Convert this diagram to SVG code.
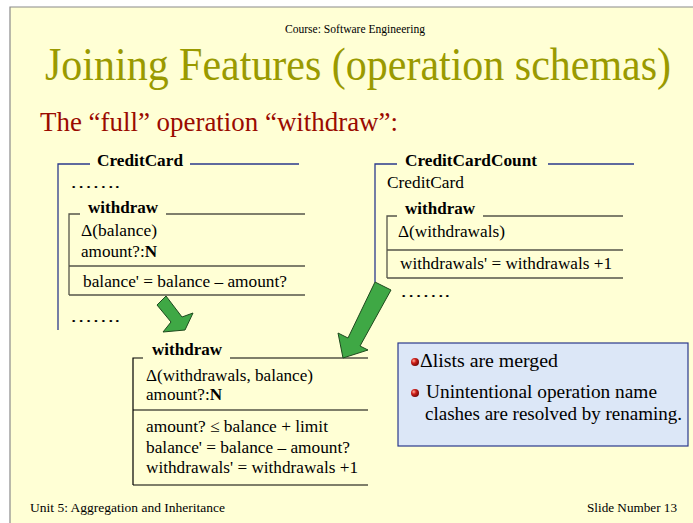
<svg xmlns="http://www.w3.org/2000/svg" width="693" height="523" viewBox="0 0 693 523">
<style>
.s{font-family:"Liberation Serif","Times New Roman","DejaVu Serif",serif;fill:#000}
.b{font-weight:bold}
.sch{font-size:17px}
.note{font-size:19.5px}
.foot{font-size:13.5px}
.blue{stroke:#2B3A8C;stroke-width:1.3;fill:none}
.gray{stroke:#55554A;stroke-width:1.3;fill:none}
.blk{stroke:#000;stroke-width:1.2;fill:none}
.arrow{fill:#3FA845;stroke:#1E4A1E;stroke-width:1}
.bul{fill:#C0181A;stroke:#6A0A0A;stroke-width:0.6}
</style>
<defs>
<radialGradient id="ball" cx="0.35" cy="0.35" r="0.7">
<stop offset="0" stop-color="#FFB0A0"/>
<stop offset="0.4" stop-color="#D0201A"/>
<stop offset="1" stop-color="#700808"/>
</radialGradient>
</defs>
<rect x="0" y="0" width="693" height="523" fill="#FFFFFF"/>
<rect x="10" y="7" width="683" height="516" fill="#FFFFD5"/>
<path d="M10 523 V7 H693" fill="none" stroke="#8A8A8A" stroke-width="1.2"/>

<text class="s" x="285" y="33" font-size="11.5" textLength="140" lengthAdjust="spacingAndGlyphs">Course: Software Engineering</text>
<text class="s" x="45" y="80" font-size="47" style="fill:#9A9A00" textLength="626" lengthAdjust="spacingAndGlyphs">Joining Features (operation schemas)</text>
<text class="s" x="40" y="131" font-size="27" style="fill:#9A0A00" textLength="358" lengthAdjust="spacingAndGlyphs">The “full” operation “withdraw”:</text>

<g id="creditcard">
<path class="blue" d="M58 330 V164 H90 M190 164 H299"/>
<text class="s sch b" x="97" y="166" textLength="86" lengthAdjust="spacingAndGlyphs">CreditCard</text>
<text class="s sch" x="70" y="188" textLength="50" lengthAdjust="spacingAndGlyphs">…….</text>
<path class="gray" d="M69 295 V214 H80 M166 214 H305 M69 266 H305 M69 295 H305"/>
<text class="s sch b" x="88" y="213" textLength="70" lengthAdjust="spacingAndGlyphs">withdraw</text>
<text class="s sch" x="81" y="236" textLength="76" lengthAdjust="spacingAndGlyphs">Δ(balance)</text>
<text class="s sch" x="81" y="257" textLength="76" lengthAdjust="spacingAndGlyphs">amount?:<tspan class="b">N</tspan></text>
<text class="s sch" x="83" y="287" textLength="204" lengthAdjust="spacingAndGlyphs">balance' = balance – amount?</text>
<text class="s sch" x="70" y="322" textLength="50" lengthAdjust="spacingAndGlyphs">…….</text>
</g>

<g id="creditcardcount">
<path class="blue" d="M375 282 V164 H397 M548 164 H634"/>
<text class="s sch b" x="405" y="166" textLength="132" lengthAdjust="spacingAndGlyphs">CreditCardCount</text>
<text class="s sch" x="387" y="188" textLength="77" lengthAdjust="spacingAndGlyphs">CreditCard</text>
<path class="gray" d="M387 278 V216 H397 M483 216 H623 M387 250 H623 M387 278 H623"/>
<text class="s sch b" x="405" y="214" textLength="70" lengthAdjust="spacingAndGlyphs">withdraw</text>
<text class="s sch" x="398" y="237" textLength="107" lengthAdjust="spacingAndGlyphs">Δ(withdrawals)</text>
<text class="s sch" x="400" y="269" textLength="212" lengthAdjust="spacingAndGlyphs">withdrawals' = withdrawals +1</text>
<text class="s sch" x="400" y="297" textLength="50" lengthAdjust="spacingAndGlyphs">…….</text>
</g>

<g id="withdraw-full">
<path class="blk" d="M133 485 V358 H143 M230 358 H368 M133 410 H368 M133 485 H368"/>
<text class="s sch b" x="152" y="355" textLength="70" lengthAdjust="spacingAndGlyphs">withdraw</text>
<text class="s sch" x="146" y="381" textLength="167" lengthAdjust="spacingAndGlyphs">Δ(withdrawals, balance)</text>
<text class="s sch" x="146" y="400" textLength="76" lengthAdjust="spacingAndGlyphs">amount?:<tspan class="b">N</tspan></text>
<text class="s sch" x="146" y="432" textLength="182" lengthAdjust="spacingAndGlyphs">amount? ≤ balance + limit</text>
<text class="s sch" x="146" y="453" textLength="204" lengthAdjust="spacingAndGlyphs">balance' = balance – amount?</text>
<text class="s sch" x="146" y="473" textLength="212" lengthAdjust="spacingAndGlyphs">withdrawals' = withdrawals +1</text>
</g>

<g id="connectors">
<polygon class="arrow" points="157,305 166,296 182,317 193,313 185,330 163,332 171,322"/>
<polygon class="arrow" points="375,282 391,290 360,346 368,350 343,358 338,333 348,338"/>
</g>

<g id="notes">
<rect x="398" y="343" width="290" height="103" fill="#DCE7F7" stroke="#2B3A8C" stroke-width="1.2"/>
<circle cx="415" cy="362" r="4" fill="url(#ball)"/>
<text class="s note" x="420" y="367" textLength="138" lengthAdjust="spacingAndGlyphs">Δlists are merged</text>
<circle cx="415" cy="393" r="4" fill="url(#ball)"/>
<text class="s note" x="426" y="398" textLength="231" lengthAdjust="spacingAndGlyphs">Unintentional operation name</text>
<text class="s note" x="425" y="420" textLength="257" lengthAdjust="spacingAndGlyphs">clashes are resolved by renaming.</text>
</g>

<text class="s foot" x="30" y="512" textLength="195" lengthAdjust="spacingAndGlyphs">Unit 5: Aggregation and Inheritance</text>
<text class="s foot" x="587" y="512" textLength="90" lengthAdjust="spacingAndGlyphs">Slide Number 13</text>
</svg>
